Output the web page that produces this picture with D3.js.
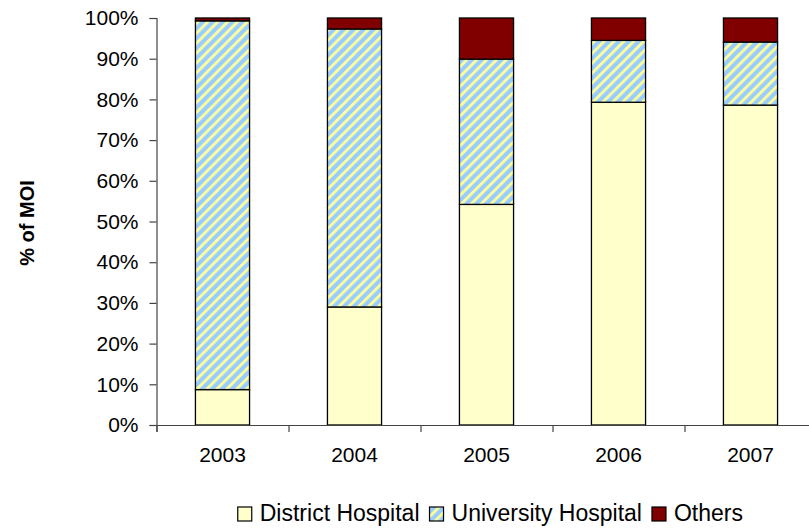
<!DOCTYPE html>
<html>
<head>
<meta charset="utf-8">
<script src="https://cdn.jsdelivr.net/npm/d3@7"></script>
<style>
  body { margin: 0; background: #fff; }
  svg text { font-family: "Liberation Sans", Arial, sans-serif; fill: #000; }
</style>
</head>
<body>
<div id="chart"></div>
<script>
// MOI share by year, stacked to 100%
var years = ["2003", "2004", "2005", "2006", "2007"];
var district = [8.7, 29.0, 54.2, 79.3, 78.6];
var university = [90.6, 68.3, 35.7, 15.2, 15.5];
var others = [0.7, 2.7, 10.1, 5.5, 5.9];
var seriesNames = ["District Hospital", "University Hospital", "Others"];
var yTicks = [0, 10, 20, 30, 40, 50, 60, 70, 80, 90, 100];

var W = 809, H = 529;
var svg = d3.select("#chart").append("svg").attr("width", W).attr("height", H);

// hatch for University Hospital
var defs = svg.append("defs");
var pat = defs.append("pattern").attr("id", "uniHatch").attr("patternUnits", "userSpaceOnUse")
  .attr("width", 7).attr("height", 7).attr("patternTransform", "rotate(45)");
pat.append("rect").attr("width", 7).attr("height", 7).attr("fill", "#99ccff");
pat.append("rect").attr("width", 2.8).attr("height", 7).attr("fill", "#ffff99");

var fills = ["#ffffcc", "url(#uniHatch)", "#800000"];

var x0 = 156.5, x1 = 816.5, yTop = 18, yBot = 425;
var x = d3.scaleBand().domain(years).range([x0, x1]).paddingInner(0.59).paddingOuter(0.295);
var y = d3.scaleLinear().domain([0, 100]).range([yBot, yTop]);
var xEdge = d3.scaleLinear().domain([0, years.length]).range([x0, x1]);

var rows = years.map(function(yr, i){ return {year: yr, district: district[i], university: university[i], others: others[i]}; });
var stack = d3.stack().keys(["district", "university", "others"])(rows);

var g = svg.append("g");
stack.forEach(function(layer, k){
  g.selectAll(null).data(layer).enter().append("rect")
    .attr("x", function(d){ return x(d.data.year); })
    .attr("y", function(d){ return y(d[1]); })
    .attr("width", x.bandwidth())
    .attr("height", function(d){ return y(d[0]) - y(d[1]); })
    .attr("fill", fills[k])
    .attr("stroke", "#000").attr("stroke-width", 1.3);
});

// y axis
var yAxis = svg.append("g").attr("transform", "translate(" + x0 + ",0)")
  .call(d3.axisLeft(y).tickValues(yTicks).tickSize(7).tickPadding(11).tickFormat(function(d){ return d + "%"; }));
yAxis.select(".domain").attr("stroke", "#444").attr("stroke-width", 1.2);
yAxis.selectAll(".tick line").attr("stroke", "#444").attr("stroke-width", 1.2);
yAxis.selectAll("text").style("font-size", "21px").style("font-family", "Liberation Sans, Arial, sans-serif");

// x axis: tick marks between categories, labels under bars
var xTicks = svg.append("g").attr("transform", "translate(0," + yBot + ")")
  .call(d3.axisBottom(xEdge).tickValues(d3.range(0, years.length + 1)).tickSize(7).tickFormat(""));
xTicks.select(".domain").attr("stroke", "#444").attr("stroke-width", 1.2);
xTicks.selectAll(".tick line").attr("stroke", "#444").attr("stroke-width", 1.2);

var xLab = svg.append("g").attr("transform", "translate(0," + yBot + ")")
  .call(d3.axisBottom(x).tickSize(0).tickPadding(22));
xLab.select(".domain").remove();
xLab.selectAll("text").style("font-size", "21px").style("font-family", "Liberation Sans, Arial, sans-serif");

// y title
svg.append("text").attr("transform", "translate(34,223)rotate(-90)").attr("text-anchor", "middle")
  .style("font-size", "20px").style("font-weight", "bold").text("% of MOI");

// legend
var leg = svg.append("g");
var lx = 0;
seriesNames.forEach(function(name, k){
  var it = leg.append("g").attr("transform", "translate(" + lx + ",0)");
  it.append("rect").attr("x", 0).attr("y", 507).attr("width", 14).attr("height", 14)
    .attr("fill", fills[k]).attr("stroke", "#000").attr("stroke-width", 1.2);
  var t = it.append("text").attr("x", 22).attr("y", 521).style("font-size", "23px").text(name);
  lx += 22 + t.node().getComputedTextLength() + 10;
});
var legW = lx - 10;
leg.attr("transform", "translate(" + (743 - legW) + ",0)");
</script>
</body>
</html>
